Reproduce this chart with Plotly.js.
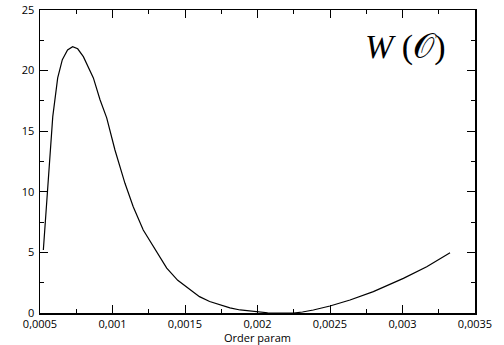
<!DOCTYPE html>
<html>
<head>
<meta charset="utf-8">
<script src="https://cdn.plot.ly/plotly-3.0.1.min.js"></script>
<style>html,body{margin:0;padding:0;background:#fff;}#chart{width:504px;height:345px;}</style>
</head>
<body>
<div id="chart"></div>
<script>
const orderParam = [0.000523, 0.000588, 0.000622, 0.000654, 0.000690, 0.000725, 0.000760, 0.000799, 0.000868, 0.000914, 0.000960, 0.001017, 0.001086, 0.001143, 0.001212, 0.001270, 0.001328, 0.001374, 0.00145, 0.001534, 0.0016, 0.00167, 0.001741, 0.00181, 0.00188, 0.002006, 0.00207, 0.002132, 0.002247, 0.00231, 0.002385, 0.0025, 0.002638, 0.002799, 0.003006, 0.003167, 0.003328];
const wValues = [5.2, 16.2, 19.4, 20.9, 21.7, 21.97, 21.8, 21.15, 19.4, 17.6, 16.1, 13.45, 10.7, 8.77, 6.85, 5.75, 4.6, 3.7, 2.7, 1.9, 1.35, 0.95, 0.66, 0.42, 0.25, 0.06, 0.02, 0.0, 0.0, 0.08, 0.25, 0.58, 1.07, 1.76, 2.86, 3.82, 4.98];
const xTicks = [0.0005, 0.001, 0.0015, 0.002, 0.0025, 0.003, 0.0035];
const yTicks = [0, 5, 10, 15, 20, 25];
const xLabel = 'Order param';
const chartLabel = '<i>W</i> (𝒪)';

const trace = {
  x: orderParam, y: wValues, type: 'scatter', mode: 'lines',
  line: {color: '#000', width: 1.2}, hoverinfo: 'none'
};
const axisCommon = {
  showline: true, linecolor: '#000', linewidth: 1.5, mirror: 'allticks',
  ticks: 'inside', ticklen: 8, tickwidth: 1, tickcolor: '#000',
  showgrid: false, zeroline: false,
  tickfont: {family: 'Open Sans', size: 11, color: '#000'}
};
const layout = {
  width: 504, height: 345,
  margin: {l: 40, r: 29, t: 10, b: 32},
  paper_bgcolor: '#fff', plot_bgcolor: '#fff',
  separators: ', ',
  showlegend: false,
  xaxis: Object.assign({}, axisCommon, {
    range: [0.0005, 0.0035], tickvals: xTicks, ticktext: xTicks.map(v => String(v).replace('.', ',')),
    minor: {ticks: 'inside', ticklen: 4, dtick: 0.00025, tick0: 0.0005, tickcolor: '#000', showgrid: false},
    title: {text: xLabel, font: {family: 'Open Sans', size: 11, color: '#000'}, standoff: 2}
  }),
  yaxis: Object.assign({}, axisCommon, {
    range: [0, 25], tickvals: yTicks, ticklabelstandoff: 2,
    minor: {ticks: 'inside', ticklen: 4, dtick: 2.5, tick0: 0, tickcolor: '#000', showgrid: false}
  }),
  annotations: [{
    xref: 'paper', yref: 'paper', x: 0.84, y: 0.878, xanchor: 'center', yanchor: 'middle',
    text: chartLabel, showarrow: false,
    font: {family: 'Liberation Serif', size: 34, color: '#000', weight: 'normal'}
  }]
};
Plotly.newPlot('chart', [trace], layout, {staticPlot: true, displayModeBar: false});
</script>
</body>
</html>
